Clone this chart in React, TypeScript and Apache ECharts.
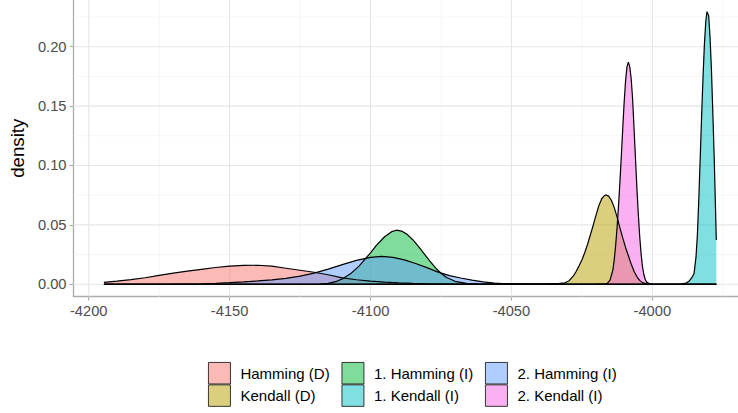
import React, { useEffect, useRef } from "react";
import * as echarts from "echarts";

const FONT = "'Liberation Sans', Arial, Helvetica, sans-serif";

const seriesNames = ["Hamming (D)", "Kendall (D)", "1. Hamming (I)", "1. Kendall (I)", "2. Hamming (I)", "2. Kendall (I)"];
const seriesColors = ["#F8766D", "#B79F00", "#00BA38", "#00BFC4", "#619CFF", "#F564E3"];

const xTicks = [-4200, -4150, -4100, -4050, -4000];
const xMinor = [-4175, -4125, -4075, -4025, -3975];
const yTicks = [0, 0.05, 0.1, 0.15, 0.2];
const yMinor = [0.025, 0.075, 0.125, 0.175, 0.225];

const X_MIN = -4205.4;
const X_MAX = -3969.6;
const Y_MIN = -0.0103;
const Y_MAX = 0.2393;

const hammingD: [number, number][] = [
  [-4194.6, 0.0016], [-4190, 0.0026], [-4185, 0.0039], [-4180, 0.0055], [-4175, 0.0075],
  [-4170, 0.0093], [-4165, 0.011], [-4160, 0.0126], [-4155, 0.0141], [-4150, 0.0153],
  [-4145, 0.0159], [-4140, 0.016], [-4135, 0.0152], [-4130, 0.0135], [-4125, 0.0118],
  [-4120, 0.0101], [-4115, 0.008], [-4110, 0.0054], [-4105, 0.0038], [-4100, 0.0027],
  [-4095, 0.0018], [-4090, 0.0011], [-4085, 0.0007], [-4080, 0.0004], [-4070, 0.0001],
  [-4060, 0], [-3977.3, 0],
];

const kendallD: [number, number][] = [
  [-4194.6, 0], [-4120, 0], [-4080, 0.0001], [-4060, 0.0002], [-4045, 0.0003], [-4037, 0.0005],
  [-4033, 0.0008], [-4031, 0.0012], [-4029.5, 0.003], [-4028, 0.007], [-4027, 0.011],
  [-4026, 0.0155], [-4025, 0.0205], [-4024, 0.0265], [-4023, 0.0335], [-4022, 0.0415],
  [-4021, 0.0495], [-4020, 0.058], [-4019, 0.066], [-4018, 0.0718], [-4017, 0.0747],
  [-4016.4, 0.0752], [-4015.5, 0.0742], [-4014.5, 0.0705], [-4013.5, 0.0645], [-4012.5, 0.0565],
  [-4011.5, 0.0475], [-4010.5, 0.039], [-4009.5, 0.031], [-4008.5, 0.024], [-4007.5, 0.017],
  [-4006.5, 0.011], [-4005.5, 0.0065], [-4004.5, 0.0033], [-4003.5, 0.0014], [-4002, 0.0004],
  [-4000, 0.0001], [-3977.3, 0],
];

const hamming1: [number, number][] = [
  [-4194.6, 0], [-4125, 0], [-4118, 0.0002], [-4115, 0.0008], [-4112, 0.0025], [-4110, 0.0045],
  [-4107, 0.009], [-4104, 0.0155], [-4102, 0.021], [-4100, 0.0265], [-4098, 0.0325],
  [-4095, 0.04], [-4092.5, 0.0443], [-4090.8, 0.0455], [-4089, 0.0448], [-4087, 0.042],
  [-4085, 0.0375], [-4083, 0.0318], [-4081, 0.0258], [-4079, 0.0196], [-4077, 0.014],
  [-4075, 0.0093], [-4073, 0.0057], [-4070, 0.0025], [-4066, 0.0008], [-4062, 0.0002],
  [-4055, 0], [-3977.3, 0],
];

const kendall1: [number, number][] = [
  [-4194.6, 0], [-3995, 0], [-3990, 0.0002], [-3988, 0.001], [-3987, 0.0025], [-3986, 0.0055],
  [-3985.2, 0.009], [-3984.5, 0.023], [-3984, 0.042], [-3983.5, 0.072], [-3983, 0.107],
  [-3982.5, 0.142], [-3982, 0.175], [-3981.5, 0.203], [-3981, 0.222], [-3980.6, 0.2295],
  [-3980, 0.226], [-3979.5, 0.207], [-3979, 0.179], [-3978.5, 0.142], [-3978, 0.103],
  [-3977.7, 0.075], [-3977.3, 0.0373],
];

const hamming2: [number, number][] = [
  [-4194.6, 0], [-4170, 0.0001], [-4165, 0.0002], [-4160, 0.0004], [-4155, 0.0008], [-4150, 0.0013],
  [-4145, 0.002], [-4140, 0.0028], [-4135, 0.0037], [-4130, 0.0049], [-4125, 0.0068],
  [-4120, 0.0094], [-4115, 0.0127], [-4110, 0.0165], [-4105, 0.0201], [-4100, 0.0226],
  [-4096, 0.0235], [-4092, 0.0226], [-4088, 0.0205], [-4084, 0.0175], [-4080, 0.014],
  [-4076, 0.0102], [-4072, 0.0073], [-4068, 0.0053], [-4064, 0.0035], [-4060, 0.002],
  [-4056, 0.0009], [-4052, 0.0003], [-4046, 0.0001], [-4040, 0], [-3977.3, 0],
];

const kendall2: [number, number][] = [
  [-4194.6, 0], [-4030, 0], [-4020, 0.0001], [-4017, 0.0002], [-4016, 0.0008], [-4015, 0.0035],
  [-4014, 0.012], [-4013.5, 0.021], [-4013, 0.033], [-4012.5, 0.048], [-4012, 0.066],
  [-4011.5, 0.086], [-4011, 0.108], [-4010.5, 0.131], [-4010, 0.153], [-4009.5, 0.171],
  [-4009, 0.183], [-4008.5, 0.187], [-4008, 0.183], [-4007.5, 0.173], [-4007, 0.156],
  [-4006.5, 0.132], [-4006, 0.107], [-4005.5, 0.082], [-4005, 0.06], [-4004.5, 0.041],
  [-4004, 0.026], [-4003.5, 0.015], [-4003, 0.008], [-4002.5, 0.004], [-4002, 0.0018],
  [-4001, 0.0004], [-4000, 0.0001], [-3998, 0], [-3977.3, 0],
];

const seriesData = [hammingD, kendallD, hamming1, kendall1, hamming2, kendall2];

const legendColumns = [[0, 1], [2, 3], [4, 5]];
const legendLefts = [208, 341.5, 485];

function rgba(hex: string, a: number) {
  const n = parseInt(hex.slice(1), 16);
  return `rgba(${(n >> 16) & 255},${(n >> 8) & 255},${n & 255},${a})`;
}

export default function App() {
  const ref = useRef<HTMLDivElement>(null);
  useEffect(() => {
    const chart = echarts.init(ref.current!, null, { renderer: "svg" });

    const gridSeries: any[] = [];
    const addGrid = (vals: number[], vertical: boolean, color: string, width: number) => {
      vals.forEach((v) => {
        gridSeries.push({
          type: "line",
          silent: true,
          z: 1,
          symbol: "none",
          animation: false,
          tooltip: { show: false },
          lineStyle: { color, width },
          data: vertical ? [[v, Y_MIN], [v, Y_MAX]] : [[X_MIN, v], [X_MAX, v]],
        });
      });
    };
    addGrid(xMinor, true, "#F2F2F2", 0.8);
    addGrid(yMinor, false, "#F2F2F2", 0.8);
    addGrid(xTicks, true, "#E6E6E6", 1.1);
    addGrid(yTicks, false, "#E6E6E6", 1.1);

    const dataSeries = seriesData.map((d, k) => ({
      name: seriesNames[k],
      type: "line",
      z: 2,
      symbol: "none",
      smooth: false,
      animation: false,
      itemStyle: { color: seriesColors[k] },
      lineStyle: { color: "#000", width: 1.2 },
      areaStyle: { color: rgba(seriesColors[k], 0.5), opacity: 1 },
      data: d,
    }));

    const axisLabelStyle = { fontSize: 14.7, color: "#4D4D4D", fontFamily: FONT };

    chart.setOption({
      animation: false,
      textStyle: { fontFamily: FONT },
      grid: { left: 69, right: 0, top: 0, bottom: 116.5, containLabel: false },
      xAxis: {
        type: "value",
        min: X_MIN,
        max: X_MAX,
        splitLine: { show: false },
        axisLine: { show: true, onZero: false, lineStyle: { color: "#ABABAB", width: 1.3 } },
        axisTick: { show: true, length: 4, lineStyle: { color: "#ABABAB", width: 1.1 }, customValues: xTicks },
        axisLabel: { ...axisLabelStyle, margin: 7, customValues: xTicks, formatter: (v: number) => String(v) },
      },
      yAxis: {
        type: "value",
        min: Y_MIN,
        max: Y_MAX,
        name: "density",
        nameLocation: "middle",
        nameGap: 41,
        nameTextStyle: { fontSize: 18.7, color: "#000", fontFamily: FONT },
        splitLine: { show: false },
        axisLine: { show: true, onZero: false, lineStyle: { color: "#ABABAB", width: 1.3 } },
        axisTick: { show: true, length: 4, lineStyle: { color: "#ABABAB", width: 1.1 }, customValues: yTicks },
        axisLabel: { ...axisLabelStyle, margin: 7, customValues: yTicks, formatter: (v: number) => v.toFixed(2) },
      },
      legend: legendColumns.map((col, i) => ({
        orient: "vertical",
        left: legendLefts[i],
        top: 362,
        padding: 0,
        itemGap: 0,
        itemWidth: 22,
        itemHeight: 21.5,
        selectedMode: false,
        icon: "rect",
        textStyle: { fontSize: 15, color: "#000", fontFamily: FONT, padding: [0, 0, 0, 5] },
        data: col.map((k) => ({
          name: seriesNames[k],
          icon: "rect",
          itemStyle: { color: rgba(seriesColors[k], 0.5), borderColor: "#222", borderWidth: 0.9 },
        })),
      })),
      series: [...gridSeries, ...dataSeries],
    });
    return () => chart.dispose();
  }, []);
  return <div ref={ref} style={{ position: "absolute", left: 0, top: 0, width: 738, height: 413 }} />;
}
